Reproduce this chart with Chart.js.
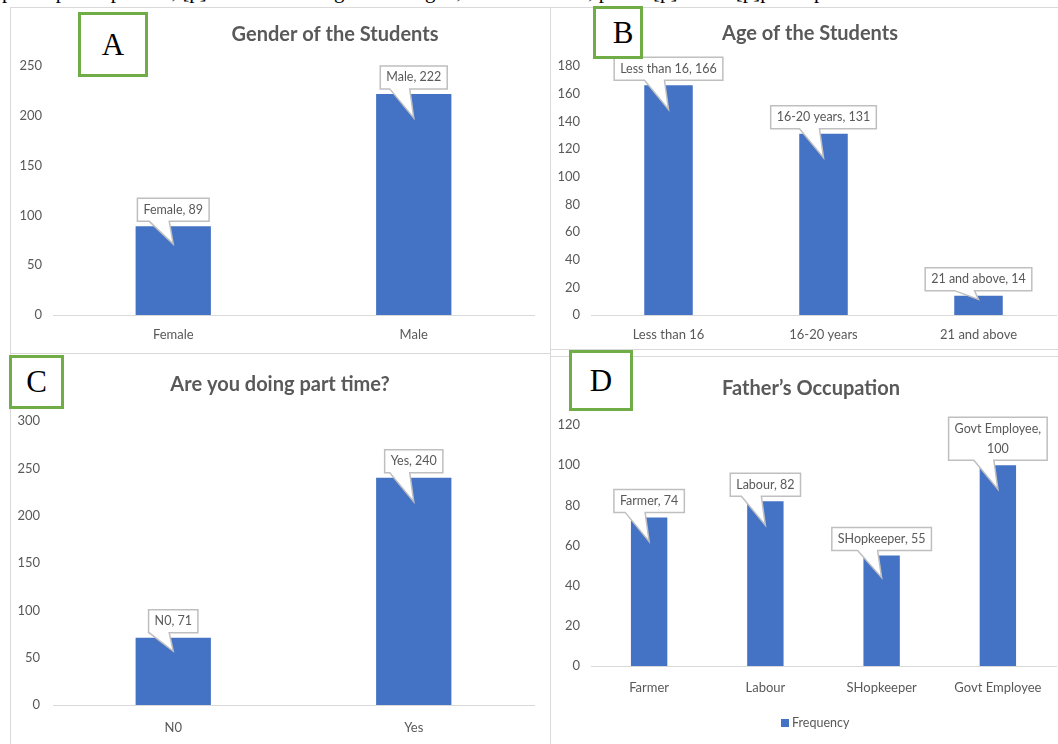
<!DOCTYPE html>
<html>
<head>
<meta charset="utf-8">
<script src="https://cdn.jsdelivr.net/npm/chart.js@4.4.1/dist/chart.umd.min.js"></script>
<style>
  body { margin: 0; background: #fff; width: 1058px; height: 744px; overflow: hidden; position: relative; }
  .panel { position: absolute; border: 1.5px solid #d9d9d9; box-sizing: border-box; background: #fff; }
  .panel canvas { position: absolute; left: 0; top: 0; }
  .tag { position: absolute; border: 3px solid #70ad47; box-sizing: border-box; background: #fff;
         font-family: 'Liberation Serif', serif; font-size: 31px; color: #000; display: flex;
         align-items: center; justify-content: center; }
  .topline { position: absolute; left: 0; top: 0; width: 1058px; height: 6px; overflow: hidden; }
  .topline div { position: absolute; left: 2px; top: -21px; white-space: nowrap;
                 font-family: 'Liberation Serif', serif; font-size: 21px; color: #000; }
</style>
</head>
<body>
<div class="topline"><div>participants&#8217; parents; [p]art of the table given in Fig. 2, and the details, p... of [p]art the [p]participants: .</div></div>

<div class="panel" style="left:10px;top:7px;width:541px;height:347px;"><canvas id="chartA"></canvas></div>
<div class="panel" style="left:550px;top:7px;width:510px;height:343px;"><canvas id="chartB"></canvas></div>
<div class="panel" style="left:10px;top:353px;width:541px;height:395px;"><canvas id="chartC"></canvas></div>
<div class="panel" style="left:550px;top:356px;width:510px;height:392px;"><canvas id="chartD"></canvas></div>

<div class="tag" style="left:78px;top:12px;width:70px;height:65px;">A</div>
<div class="tag" style="left:593px;top:6px;width:50px;height:53px;padding-left:10px;">B</div>
<div class="tag" style="left:9px;top:355px;width:55px;height:54px;">C</div>
<div class="tag" style="left:569px;top:350px;width:64px;height:61px;">D</div>

<script>
// data
const genderLabels = ['Female', 'Male'];
const genderValues = [89, 222];
const ageLabels = ['Less than 16', '16-20 years', '21 and above'];
const ageValues = [166, 131, 14];
const partTimeLabels = ['N0', 'Yes'];
const partTimeValues = [71, 240];
const occupationLabels = ['Farmer', 'Labour', 'SHopkeeper', 'Govt Employee'];
const occupationValues = [74, 82, 55, 100];

const titles = ['Gender of the Students', 'Age of the Students', 'Are you doing part time?', 'Father\u2019s Occupation'];
const seriesName = 'Frequency';

const FONT = 'Lato, "Open Sans", sans-serif';
const GREY = '#595959';
const BLUE = '#4472c4';

// title + callouts + optional legend, drawn by hand
const decoPlugin = {
    id: 'deco',
    afterDatasetsDraw(chart, args, o) {
        const ctx = chart.ctx;
        ctx.save();
        // title
        ctx.font = 'bold 20px ' + FONT;
        ctx.fillStyle = GREY;
        ctx.textAlign = 'center';
        ctx.textBaseline = 'middle';
        ctx.fillText(o.title, o.titleX, o.titleY);

        // data callouts
        const meta = chart.getDatasetMeta(0);
        const labels = chart.data.labels;
        const values = chart.data.datasets[0].data;
        ctx.font = '12.5px ' + FONT;
        meta.data.forEach((bar, i) => {
            let lines = [labels[i] + ', ' + values[i]];
            if (ctx.measureText(lines[0]).width > o.maxLabel) {
                lines = [labels[i] + ',', String(values[i])];
            }
            const tw = Math.max(...lines.map(l => ctx.measureText(l).width));
            const w = tw + 12;
            const h = 13 + (lines.length - 1) * 20 + 10;
            const cx = bar.x;
            const bottom = bar.y - 5;
            const top = bottom - h;
            const left = cx - w / 2;
            const right = cx + w / 2;
            const tip = bar.y + Math.min(24, (bar.base - bar.y) * 0.2);
            ctx.beginPath();
            ctx.moveTo(left, top);
            ctx.lineTo(right, top);
            ctx.lineTo(right, bottom);
            ctx.lineTo(cx - 4, bottom);
            ctx.lineTo(cx, tip);
            ctx.lineTo(cx - 24, bottom);
            ctx.lineTo(left, bottom);
            ctx.closePath();
            ctx.fillStyle = '#fff';
            ctx.fill();
            ctx.strokeStyle = '#bfbfbf';
            ctx.lineWidth = 1.5;
            ctx.stroke();
            ctx.fillStyle = GREY;
            ctx.textAlign = 'center';
            lines.forEach((l, k) => ctx.fillText(l, cx, top + 5 + 6.5 + k * 20));
        });

        if (o.legendY) {
            ctx.font = '12.5px ' + FONT;
            ctx.fillStyle = BLUE;
            ctx.fillRect(o.legendX, o.legendY - 4, 8, 8);
            ctx.fillStyle = GREY;
            ctx.textAlign = 'left';
            ctx.fillText(chart.data.datasets[0].label, o.legendX + 11, o.legendY);
        }
        ctx.restore();
    }
};

function makeChart(id, w, h, labels, values, max, step, c) {
    const canvas = document.getElementById(id);
    canvas.width = w;
    canvas.height = h;
    canvas.style.width = w + 'px';
    canvas.style.height = h + 'px';
    return new Chart(canvas, {
        type: 'bar',
        data: {
            labels: labels,
            datasets: [{
                label: seriesName,
                data: values,
                backgroundColor: BLUE,
                barPercentage: 0.313,
                categoryPercentage: 1
            }]
        },
        options: {
            responsive: false,
            animation: false,
            layout: { padding: { left: 0, right: c.padRight, top: c.padTop, bottom: 0 } },
            plugins: {
                legend: { display: false },
                tooltip: { enabled: false },
                title: { display: false },
                deco: c.deco
            },
            scales: {
                x: {
                    grid: { display: false, drawTicks: false },
                    border: { display: true, color: '#d9d9d9', width: 1 },
                    ticks: { color: GREY, font: { family: FONT, size: 13 }, padding: c.xPad, maxRotation: 0 },
                    afterFit(scale) { scale.height = c.xHeight; }
                },
                y: {
                    min: 0,
                    max: max,
                    grid: { display: false, drawTicks: false },
                    border: { display: false },
                    ticks: { stepSize: step, color: GREY, font: { family: FONT, size: 13 }, padding: c.yPad },
                    afterFit(scale) { scale.width = c.yWidth; }
                }
            }
        },
        plugins: [decoPlugin]
    });
}

makeChart('chartA', 538, 344, genderLabels, genderValues, 250, 50, {
    padRight: 15, padTop: 58, xHeight: 37, xPad: 12, yWidth: 42, yPad: 11,
    deco: { title: titles[0], titleX: 324, titleY: 27, maxLabel: 200 }
});
makeChart('chartB', 506, 340, ageLabels, ageValues, 180, 20, {
    padRight: 1, padTop: 58, xHeight: 33, xPad: 12, yWidth: 40, yPad: 11,
    deco: { title: titles[1], titleX: 259, titleY: 26, maxLabel: 200 }
});
makeChart('chartC', 538, 388, partTimeLabels, partTimeValues, 300, 50, {
    padRight: 15, padTop: 67, xHeight: 37, xPad: 15, yWidth: 42, yPad: 13,
    deco: { title: titles[2], titleX: 269, titleY: 31, maxLabel: 200 }
});
makeChart('chartD', 506, 386, occupationLabels, occupationValues, 120, 20, {
    padRight: 1, padTop: 68, xHeight: 77, xPad: 14, yWidth: 40, yPad: 11,
    deco: { title: titles[3], titleX: 260, titleY: 32, maxLabel: 95, legendX: 230, legendY: 366 }
});
</script>
</body>
</html>
